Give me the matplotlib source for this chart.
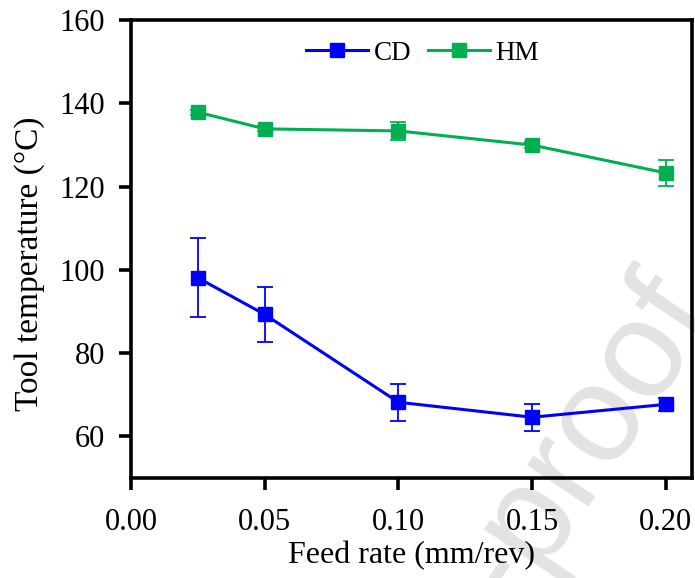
import numpy as np
import matplotlib
matplotlib.use('Agg')
import matplotlib.pyplot as plt

# Datos
feedRate = [0.025, 0.05, 0.10, 0.15, 0.20]

cdTemp = [98.1, 89.3, 68.2, 64.6, 67.7]
cdErr = [9.5, 6.5, 4.5, 3.2, 1.5]

hmTemp = [137.9, 133.9, 133.4, 130.0, 123.3]
hmErr = [0.6, 0.6, 2.2, 0.8, 3.2]

xTicks = [0.00, 0.05, 0.10, 0.15, 0.20]
yTicks = [60, 80, 100, 120, 140, 160]

plt.rcParams['font.family'] = ['Liberation Serif', 'DejaVu Serif']

fig = plt.figure(figsize=(6.95, 5.78), dpi=100)
ax = fig.add_axes([0.1885, 0.173, 0.807, 0.792])

# marca de agua
ax.text(1.033, 0.455, "Journal Pre-proof", transform=fig.transFigure,
        rotation=56, fontsize=100, color='#e3e3e3', family='Liberation Sans',
        ha='right', va='baseline', rotation_mode='anchor', zorder=0, clip_on=False)

cd = ax.errorbar(feedRate, cdTemp, yerr=cdErr, color='#0000FF', marker='s',
                 markersize=10, linewidth=2.2, elinewidth=1.3, capsize=5.5, capthick=1.3,
                 label='CD', zorder=3)
hm = ax.errorbar(feedRate, hmTemp, yerr=hmErr, color='#00B050', marker='s',
                 markersize=10, linewidth=2.2, elinewidth=1.3, capsize=5.5, capthick=1.3,
                 label='HM', zorder=3)

ax.set_xlim(0, 0.2097)
ax.set_ylim(50, 160)
ax.set_xticks(xTicks)
ax.set_xticklabels([f"{t:.2f}" for t in xTicks])
ax.set_yticks(yTicks)

for sp in ax.spines.values():
    sp.set_linewidth(2.6)
ax.tick_params(direction='out', length=8.5, width=2.6, labelsize=22)
ax.tick_params(axis='x', pad=13)
ax.tick_params(axis='y', pad=10)

ax.set_xlabel('Feed rate (mm/rev)', fontsize=23, labelpad=3)
ax.set_ylabel('Tool temperature (°C)', fontsize=24)
ax.yaxis.set_label_coords(-0.153, 0.467)

ax.legend(handles=[cd[0], hm[0]], labels=['CD', 'HM'], loc='center',
          bbox_to_anchor=(0.52, 0.928), ncol=2, frameon=False,
          fontsize=19.5, handlelength=2.3, columnspacing=0.6, handletextpad=0.2,
          borderaxespad=0)

fig.savefig('out.png', dpi=100)
